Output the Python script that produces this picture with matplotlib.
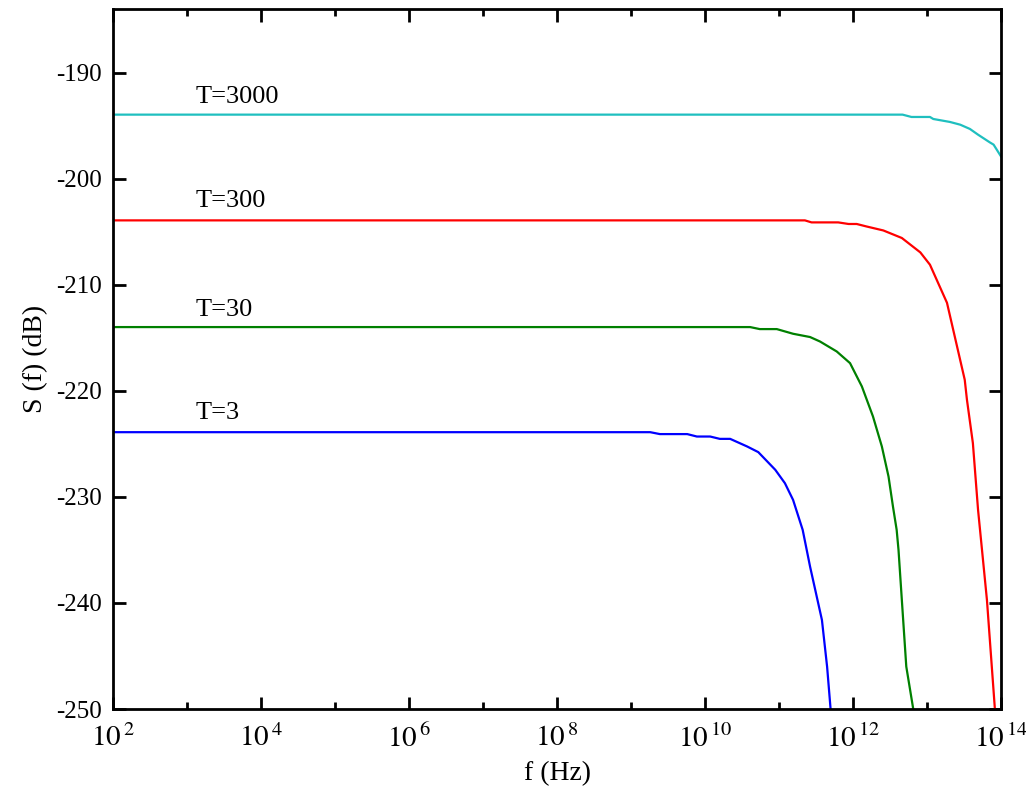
import numpy as np
import matplotlib
matplotlib.use("Agg")
import matplotlib.pyplot as plt
from matplotlib.ticker import FixedLocator, FixedFormatter

plt.rcParams['font.family'] = ['Liberation Serif', 'DejaVu Serif']
plt.rcParams['mathtext.fontset'] = 'stix'

# log10 of frequency (Hz) and S(f) in dB
logf_T3000 = [2.0, 12.67, 12.79, 13.04, 13.085, 13.31, 13.45, 13.58, 13.69, 13.85, 13.90, 14.0]
S_T3000 = [-193.96, -193.96, -194.18, -194.18, -194.37, -194.65, -194.91, -195.31, -195.85, -196.58, -196.79, -197.90]

logf_T300 = [2.0, 11.35, 11.44, 11.80, 11.94, 12.05, 12.18, 12.41, 12.66, 12.91, 13.04, 13.27, 13.51, 13.54, 13.62, 13.69, 13.81, 13.92]
S_T300 = [-203.93, -203.93, -204.12, -204.12, -204.27, -204.27, -204.50, -204.88, -205.59, -206.95, -208.11, -211.70, -218.96, -220.85, -224.93, -231.23, -239.72, -250.25]

logf_T30 = [2.0, 10.61, 10.74, 10.97, 11.19, 11.42, 11.554, 11.78, 11.96, 12.12, 12.27, 12.39, 12.48, 12.54, 12.59, 12.615, 12.66, 12.72, 12.82]
S_T30 = [-213.99, -213.99, -214.18, -214.18, -214.62, -214.93, -215.35, -216.29, -217.39, -219.59, -222.42, -225.25, -228.08, -230.91, -233.11, -235.0, -239.72, -246.0, -250.25]

logf_T3 = [2.0, 9.26, 9.39, 9.76, 9.89, 10.07, 10.20, 10.34, 10.57, 10.72, 10.95, 11.08, 11.19, 11.32, 11.42, 11.58, 11.65, 11.70]
S_T3 = [-223.90, -223.90, -224.08, -224.08, -224.31, -224.31, -224.53, -224.53, -225.25, -225.78, -227.45, -228.71, -230.28, -233.11, -236.58, -241.60, -246.01, -250.25]

series_labels = ['T=3000', 'T=300', 'T=30', 'T=3']
series_colors = ['#1fbfbf', '#ff0000', '#008000', '#0000ff']
label_logx = [3.11, 3.11, 3.11, 3.11]
label_y = [-192.83, -202.64, -212.92, -222.67]

x_major_exp = [2, 4, 6, 8, 10, 12, 14]
x_minor_exp = [3, 5, 7, 9, 11, 13]
y_ticks = [-250, -240, -230, -220, -210, -200, -190]

fig = plt.figure(figsize=(10.26, 7.93), dpi=100)
ax = fig.add_axes([113/1026, 1 - 709/793, 888/1026, 700/793])

data = [(logf_T3000, S_T3000), (logf_T300, S_T300), (logf_T30, S_T30), (logf_T3, S_T3)]
for (lx, s), c in zip(data, series_colors):
    ax.plot(10.0 ** np.array(lx), s, color=c, lw=1.6, solid_joinstyle='round')

for lab, lx, ly in zip(series_labels, label_logx, label_y):
    ax.text(10.0 ** lx, ly, lab, fontsize=19, ha='left', va='baseline')

ax.set_xscale('log')
ax.set_xlim(1e2, 1e14)
ax.set_ylim(-250, -184)

ax.xaxis.set_major_locator(FixedLocator([10.0 ** e for e in x_major_exp]))
ax.xaxis.set_major_formatter(FixedFormatter([r'$10^{\,%d}$' % e for e in x_major_exp]))
ax.xaxis.set_minor_locator(FixedLocator([10.0 ** e for e in x_minor_exp]))
ax.xaxis.set_minor_formatter(FixedFormatter([''] * len(x_minor_exp)))
ax.set_yticks(y_ticks)
ax.set_yticklabels([str(v) for v in y_ticks])

ax.tick_params(which='major', direction='in', length=9, width=2, labelsize=18,
               top=True, right=True, pad=8)
ax.tick_params(which='minor', direction='in', length=5, width=2, top=True, right=True)
ax.tick_params(axis='x', labelsize=21, pad=11)
for sp in ax.spines.values():
    sp.set_linewidth(2)

ax.set_xlabel('f (Hz)', fontsize=20, labelpad=6)
ax.set_ylabel('S (f) (dB)', fontsize=20, labelpad=6)

fig.savefig('out.png', dpi=100)
